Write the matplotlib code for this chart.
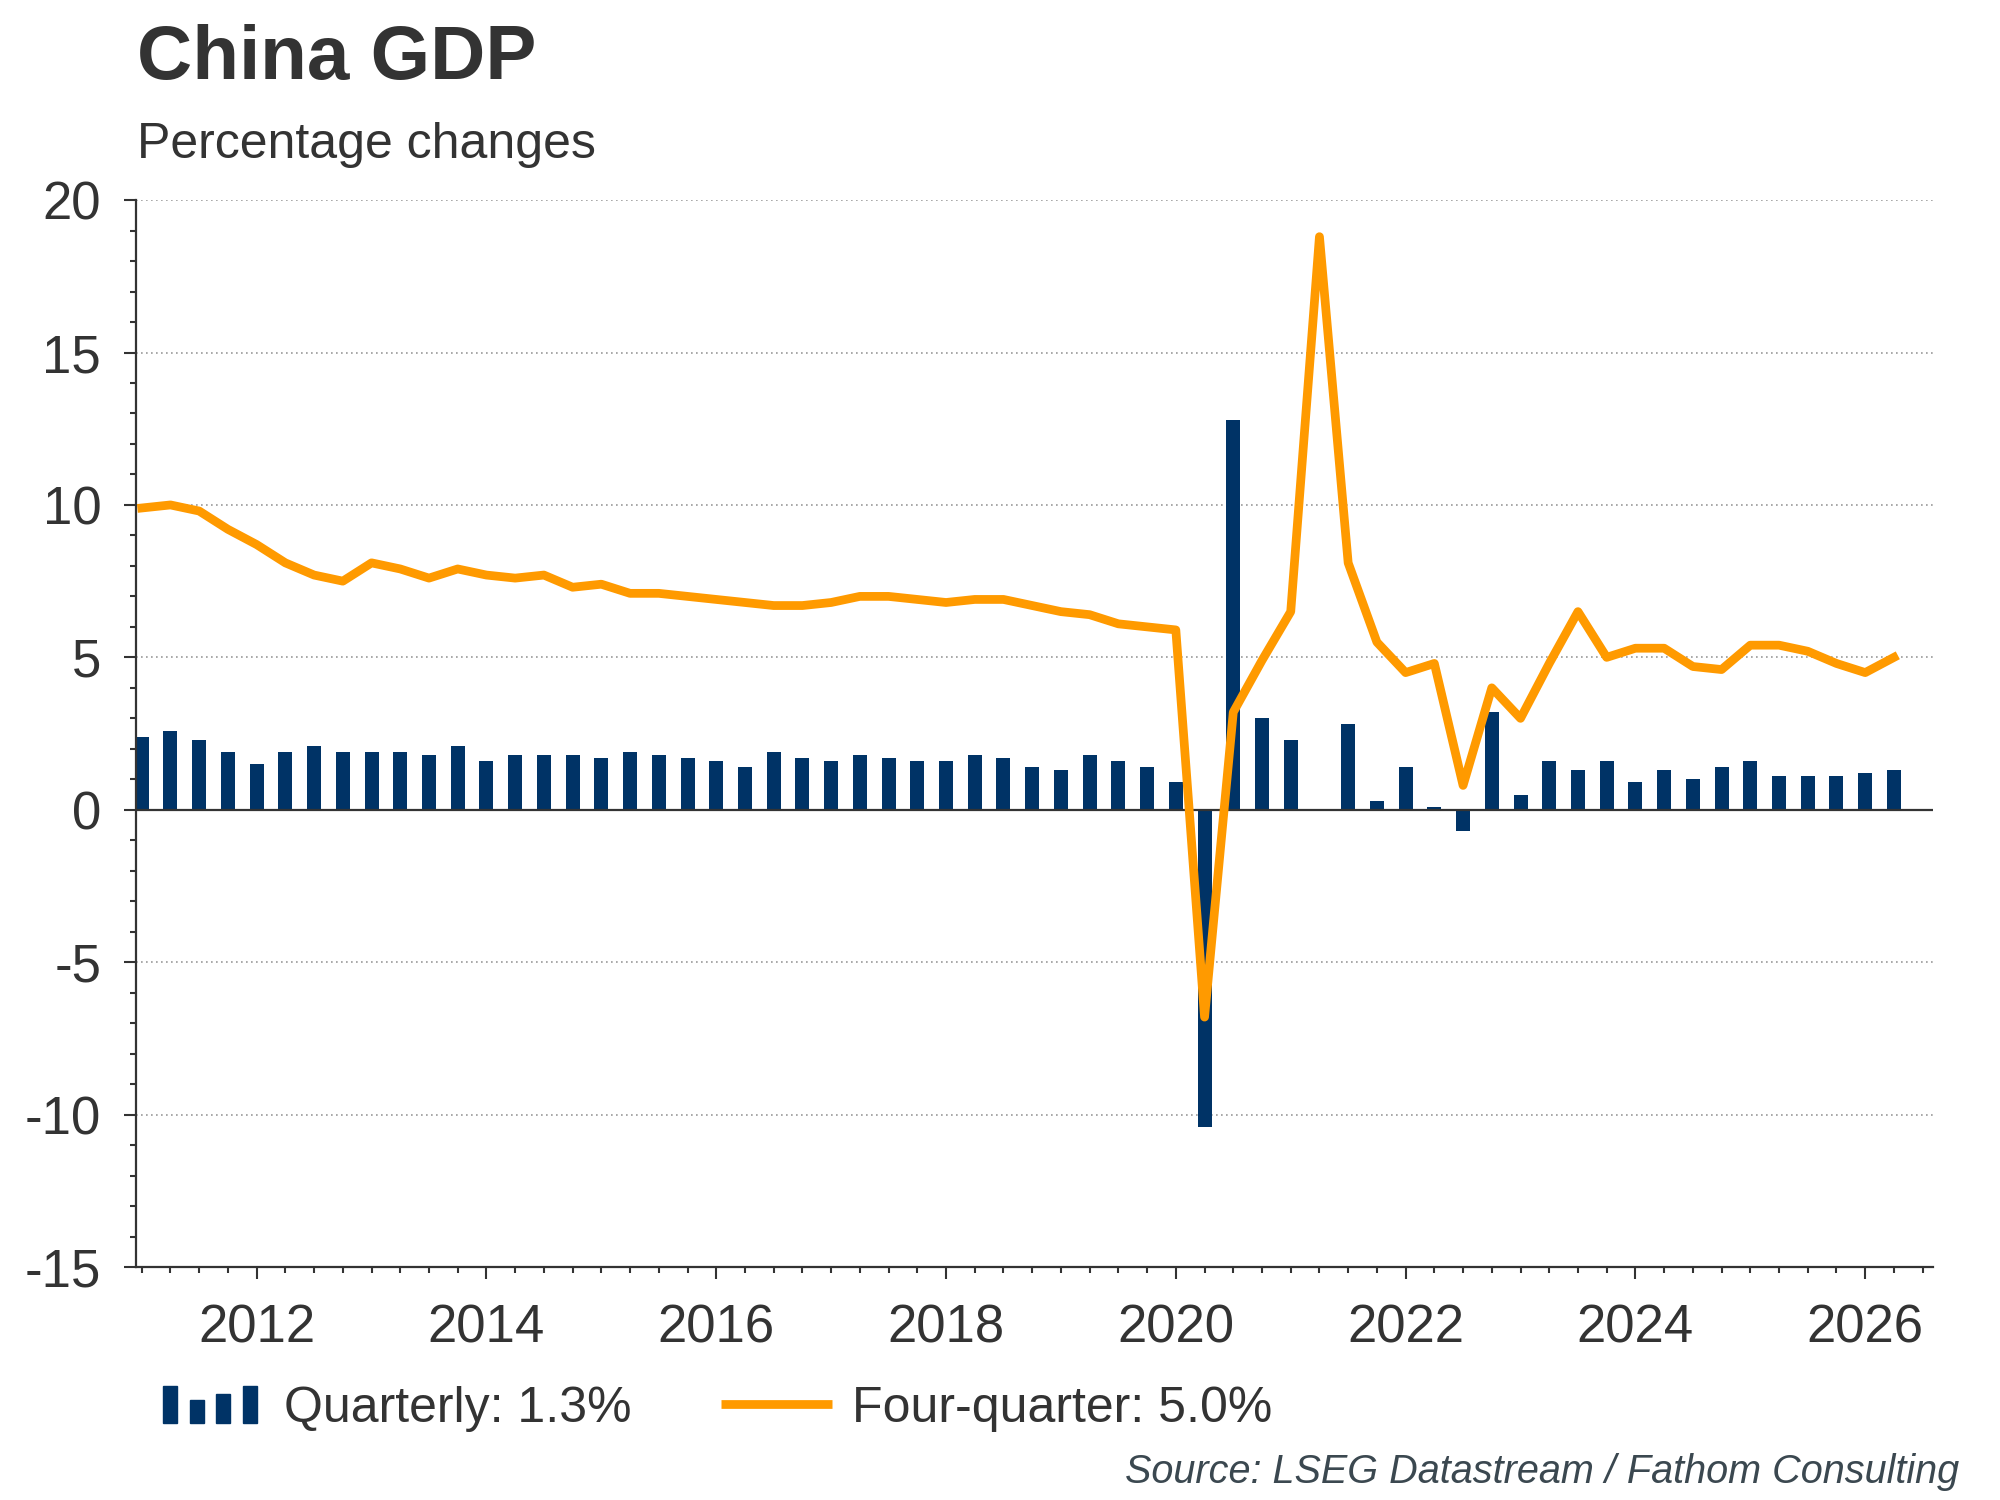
import numpy as np
import pandas as pd
import matplotlib
matplotlib.use('Agg')
import matplotlib.pyplot as plt
from matplotlib.patches import Rectangle
from matplotlib.lines import Line2D
from matplotlib.ticker import MultipleLocator

# Dados trimestrais, 2011Q1 a 2026Q2
quarters = pd.period_range('2011Q1', '2026Q2', freq='Q')

quarterly = [2.4, 2.6, 2.3, 1.9, 1.5, 1.9, 2.1, 1.9, 1.9, 1.9, 1.8, 2.1,
             1.6, 1.8, 1.8, 1.8, 1.7, 1.9, 1.8, 1.7, 1.6, 1.4, 1.9, 1.7,
             1.6, 1.8, 1.7, 1.6, 1.6, 1.8, 1.7, 1.4, 1.3, 1.8, 1.6, 1.4,
             0.9, -10.4, 12.8, 3.0, 2.3, 0.0, 2.8, 0.3, 1.4, 0.1, -0.7, 3.2,
             0.5, 1.6, 1.3, 1.6, 0.9, 1.3, 1.0, 1.4, 1.6, 1.1, 1.1, 1.1,
             1.2, 1.3]

four_quarter = [9.9, 10.0, 9.8, 9.2, 8.7, 8.1, 7.7, 7.5, 8.1, 7.9, 7.6, 7.9,
                7.7, 7.6, 7.7, 7.3, 7.4, 7.1, 7.1, 7.0, 6.9, 6.8, 6.7, 6.7,
                6.8, 7.0, 7.0, 6.9, 6.8, 6.9, 6.9, 6.7, 6.5, 6.4, 6.1, 6.0,
                5.9, -6.8, 3.2, 4.9, 6.5, 18.8, 8.1, 5.5, 4.5, 4.8, 0.8, 4.0,
                3.0, 4.8, 6.5, 5.0, 5.3, 5.3, 4.7, 4.6, 5.4, 5.4, 5.2, 4.8,
                4.5, 5.0]

quarterly_label = 'Quarterly: 1.3%'
four_quarter_label = 'Four-quarter: 5.0%'

navy = '#003366'
orange = '#FF9A00'
dark = '#333333'

plt.rcParams['font.family'] = ['Liberation Sans', 'DejaVu Sans']
plt.rcParams['axes.unicode_minus'] = False

x = quarters.year + (quarters.quarter - 1) / 4

fig = plt.figure(figsize=(20, 15), dpi=100)
ax = fig.add_axes([0.068, 0.1553, 0.8985, 0.7113])

# Barras e linha
ax.bar(x, quarterly, width=0.122, color=navy, zorder=2)
ax.axhline(0, color=dark, lw=1.6, zorder=2.5)
ax.plot(x, four_quarter, color=orange, lw=6.3, zorder=3)

# Eixos
ax.set_xlim(2010.95, 2026.59)
ax.set_ylim(-15, 20)
ax.set_xticks(range(2012, 2027, 2))
ax.xaxis.set_minor_locator(MultipleLocator(0.25))
ax.yaxis.set_major_locator(MultipleLocator(5))
ax.yaxis.set_minor_locator(MultipleLocator(1))
ax.grid(axis='y', which='major', color='#9a9a9a', lw=1.2, ls=(0, (1, 2)), zorder=1)
ax.set_axisbelow(True)

ax.tick_params(which='major', length=8.6, width=1.5, color=dark,
               labelsize=38, labelcolor=dark, pad=18)
ax.tick_params(axis='y', which='major', pad=16.5)
ax.tick_params(which='minor', length=4.3, width=1.5, color=dark)
for side in ['top', 'right']:
    ax.spines[side].set_visible(False)
for side in ['left', 'bottom']:
    ax.spines[side].set_color(dark)
    ax.spines[side].set_linewidth(1.6)

# Titulo e subtitulo
fig.text(0.0685, 0.9473, 'China GDP', fontsize=55, fontweight='bold',
         color=dark, va='baseline')
fig.text(0.0685, 0.8947, 'Percentage changes', fontsize=36, color=dark,
         va='baseline')

# Legenda desenhada a mao
y_base = 1 - 1423 / 1500
for bx, bh in zip([163, 190, 216, 243], [37, 23, 29, 37]):
    fig.add_artist(Rectangle((bx / 2000, y_base), 14 / 2000, bh / 1500,
                             transform=fig.transFigure, color=navy))
fig.text(284 / 2000, 1 - 1422 / 1500, quarterly_label, fontsize=36,
         color=dark, va='baseline')
fig.add_artist(Line2D([721 / 2000, 832 / 2000], [1 - 1404 / 1500] * 2,
                      transform=fig.transFigure, color=orange, lw=6.3,
                      solid_capstyle='butt'))
fig.text(852 / 2000, 1 - 1422 / 1500, four_quarter_label, fontsize=36,
         color=dark, va='baseline')

# Fonte
fig.text(0.9795, 1 - 1483 / 1500, 'Source: LSEG Datastream / Fathom Consulting',
         ha='right', va='baseline', style='italic', fontsize=28.5, color='#3b4850')

fig.savefig('out.png', dpi=100)
